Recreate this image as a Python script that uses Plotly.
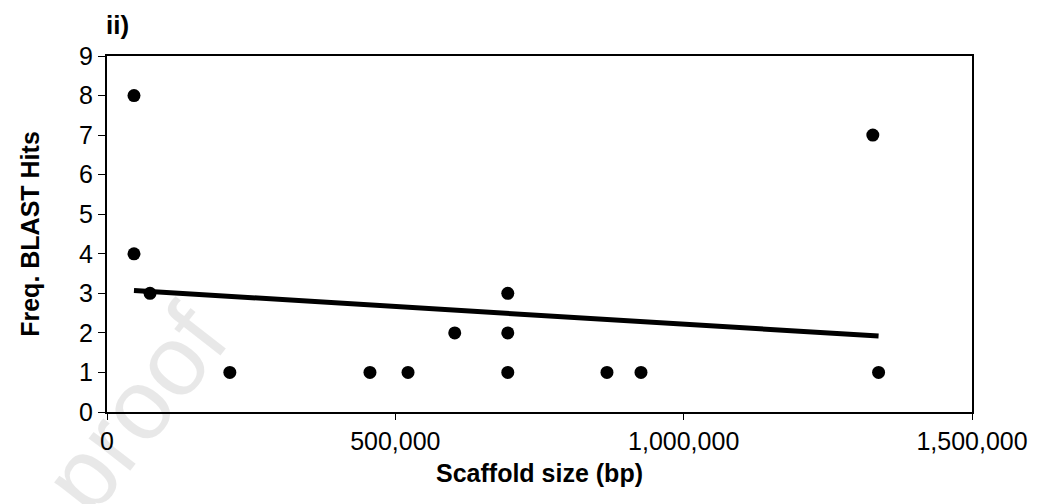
import numpy as np
import plotly.graph_objects as go

scaffold_size = [46800, 46800, 74600, 213000, 456000, 522000, 603000,
                 695000, 695000, 695000, 867000, 926000, 1328000, 1338000]
blast_hits = [8, 4, 3, 1, 1, 1, 2, 3, 2, 1, 1, 1, 7, 1]

x_ticks = [0, 500000, 1000000, 1500000]
x_tick_labels = ["0", "500,000", "1,000,000", "1,500,000"]
y_ticks = list(range(0, 10))

# linear trend line (least squares) across the data range
slope, intercept = np.polyfit(scaffold_size, blast_hits, 1)
trend_x = [min(scaffold_size), max(scaffold_size)]
trend_y = [slope * v + intercept for v in trend_x]

fig = go.Figure()
fig.add_trace(go.Scatter(x=trend_x, y=trend_y, mode="lines",
                         line=dict(color="black", width=5), hoverinfo="skip"))
fig.add_trace(go.Scatter(x=scaffold_size, y=blast_hits, mode="markers",
                         marker=dict(color="black", size=13)))

fig.update_layout(
    width=1039, height=504,
    margin=dict(l=99, r=75, t=48, b=100),
    plot_bgcolor="white", paper_bgcolor="white",
    showlegend=False,
    font=dict(family="Liberation Sans, Arial, sans-serif", color="black"),
    xaxis=dict(range=[0, 1500000], tickvals=x_ticks, ticktext=x_tick_labels,
               showgrid=False, zeroline=False, showline=True, linecolor="black",
               linewidth=2, mirror=True, ticks="outside", ticklen=6, tickwidth=1,
               tickcolor="black", tickfont=dict(size=25), automargin=False,
               title=dict(text="<b>Scaffold size (bp)</b>", font=dict(size=25), standoff=10)),
    yaxis=dict(range=[0, 9], tickvals=y_ticks, showgrid=False, zeroline=False,
               showline=True, linecolor="black", linewidth=2, mirror=True,
               ticks="outside", ticklen=7, tickwidth=1, tickcolor="black",
               tickfont=dict(size=25), automargin=False,
               title=dict(text="<b>Freq. BLAST Hits</b>", font=dict(size=25), standoff=32)),
    annotations=[
        dict(text="<b>ii)</b>", xref="paper", yref="paper", x=-0.004, y=1.0,
             xanchor="left", yanchor="bottom", yshift=14, showarrow=False,
             font=dict(size=26, color="black")),
        dict(text="Journal Pre-proof", xref="paper", yref="paper",
             x=-0.162, y=-0.592, xanchor="center", yanchor="middle",
             textangle=-52, showarrow=False,
             font=dict(size=100, color="rgba(0,0,0,0.09)")),
    ],
)

fig.write_html("out.html")
